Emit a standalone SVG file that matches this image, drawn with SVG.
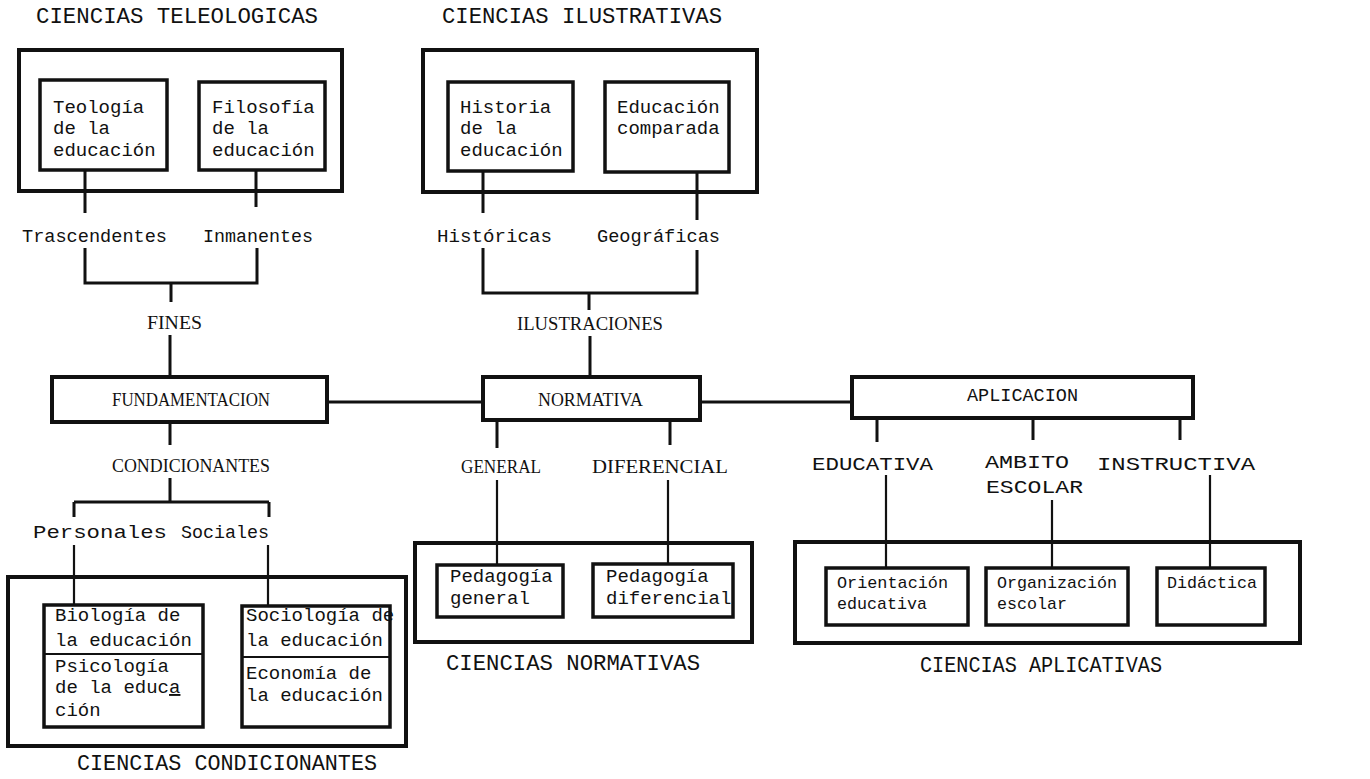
<svg xmlns="http://www.w3.org/2000/svg" width="1370" height="779" viewBox="0 0 1370 779">
<style>
.bg{fill:#fff}
.box{fill:none;stroke:#111;stroke-width:4}
.ibox{fill:none;stroke:#111;stroke-width:3.5}
.ln{fill:none;stroke:#111;stroke-width:3}
.thin{fill:none;stroke:#111;stroke-width:2.2}
.mono{font-family:"Liberation Mono","DejaVu Sans Mono",monospace;font-size:19px;fill:#111}
.small{font-family:"Liberation Mono","DejaVu Sans Mono",monospace;font-size:17px;fill:#111}
.title{font-family:"Liberation Mono","DejaVu Sans Mono",monospace;font-size:22px;fill:#111}
.cap{font-family:"Liberation Serif","DejaVu Serif",serif;font-size:18px;fill:#111}
</style>
<rect class="bg" x="0" y="0" width="1370" height="779"/>

<g id="connectors">
  <path class="ln" d="M85,170 V213 M256,170 V207"/>
  <path class="ln" d="M85,248 V283 H257 V248 M171,283 V302"/>
  <path class="ln" d="M170,335 V377"/>
  <path class="ln" d="M483,171 V213 M697,172 V220"/>
  <path class="ln" d="M483,248 V293 H697 V250 M589,293 V310"/>
  <path class="ln" d="M590,336 V377"/>
  <path class="ln" d="M327,402 H483 M700,402 H852"/>
  <path class="ln" d="M170,422 V445 M170,478 V502 M74,502 H269 M74,502 V517 M269,502 V517"/>
  <path class="thin" d="M74,545 V605 M268,545 V606"/>
  <path class="ln" d="M497,420 V448 M670,420 V445"/>
  <path class="thin" d="M497,480 V565 M668,480 V564"/>
  <path class="ln" d="M877,418 V442 M1033,418 V440 M1180,418 V440"/>
  <path class="thin" d="M886,475 V568 M1052,500 V568 M1210,475 V568"/>
</g>

<g id="ciencias-teleologicas">
  <text class="title" x="36" y="23" textLength="282" lengthAdjust="spacingAndGlyphs">CIENCIAS TELEOLOGICAS</text>
  <rect class="box" x="19" y="50" width="323" height="141"/>
</g>
<g id="teologia">
  <rect class="ibox" x="40" y="80" width="127" height="90"/>
  <text class="mono" x="53" y="113">Teología</text>
  <text class="mono" x="53" y="134">de la</text>
  <text class="mono" x="53" y="156">educación</text>
</g>
<g id="filosofia">
  <rect class="ibox" x="199" y="82" width="126" height="88"/>
  <text class="mono" x="212" y="113">Filosofía</text>
  <text class="mono" x="212" y="134">de la</text>
  <text class="mono" x="212" y="156">educación</text>
</g>
<g id="trascendentes"><text class="mono" x="22" y="242" textLength="145" lengthAdjust="spacingAndGlyphs">Trascendentes</text></g>
<g id="inmanentes"><text class="mono" x="203" y="242" textLength="110" lengthAdjust="spacingAndGlyphs">Inmanentes</text></g>
<g id="fines"><text class="cap" x="147" y="329" textLength="55" lengthAdjust="spacingAndGlyphs">FINES</text></g>

<g id="ciencias-ilustrativas">
  <text class="title" x="442" y="23" textLength="280" lengthAdjust="spacingAndGlyphs">CIENCIAS ILUSTRATIVAS</text>
  <rect class="box" x="423" y="50" width="334" height="142"/>
</g>
<g id="historia">
  <rect class="ibox" x="448" y="82" width="125" height="89"/>
  <text class="mono" x="460" y="113">Historia</text>
  <text class="mono" x="460" y="134">de la</text>
  <text class="mono" x="460" y="156">educación</text>
</g>
<g id="educacion-comparada">
  <rect class="ibox" x="605" y="82" width="124" height="90"/>
  <text class="mono" x="617" y="113">Educación</text>
  <text class="mono" x="617" y="134">comparada</text>
</g>
<g id="historicas"><text class="mono" x="437" y="242" textLength="115" lengthAdjust="spacingAndGlyphs">Históricas</text></g>
<g id="geograficas"><text class="mono" x="597" y="242" textLength="123" lengthAdjust="spacingAndGlyphs">Geográficas</text></g>
<g id="ilustraciones"><text class="cap" x="517" y="330" textLength="146" lengthAdjust="spacingAndGlyphs">ILUSTRACIONES</text></g>

<g id="fundamentacion">
  <rect class="box" x="52" y="377" width="275" height="45"/>
  <text class="cap" x="112" y="406" textLength="158" lengthAdjust="spacingAndGlyphs">FUNDAMENTACION</text>
</g>
<g id="normativa">
  <rect class="box" x="483" y="377" width="217" height="43"/>
  <text class="cap" x="538" y="406" textLength="105" lengthAdjust="spacingAndGlyphs">NORMATIVA</text>
</g>
<g id="aplicacion">
  <rect class="box" x="852" y="377" width="341" height="41"/>
  <text class="mono" x="967" y="401" textLength="111" lengthAdjust="spacingAndGlyphs">APLICACION</text>
</g>

<g id="condicionantes"><text class="cap" x="112" y="472" textLength="158" lengthAdjust="spacingAndGlyphs">CONDICIONANTES</text></g>
<g id="personales"><text class="mono" x="33" y="538" textLength="134" lengthAdjust="spacingAndGlyphs">Personales</text></g>
<g id="sociales"><text class="mono" x="181" y="538" textLength="88" lengthAdjust="spacingAndGlyphs">Sociales</text></g>

<g id="ciencias-condicionantes">
  <rect class="box" x="8" y="577" width="398" height="169"/>
  <text class="title" x="77" y="770" textLength="300" lengthAdjust="spacingAndGlyphs">CIENCIAS CONDICIONANTES</text>
</g>
<g id="biologia-psicologia">
  <rect class="ibox" x="44" y="605" width="159" height="122"/>
  <line class="thin" x1="44" y1="654" x2="203" y2="654"/>
  <text class="mono" x="55" y="621">Biología de</text>
  <text class="mono" x="55" y="646">la educación</text>
  <text class="mono" x="55" y="672">Psicología</text>
  <text class="mono" x="55" y="693">de la educ<tspan text-decoration="underline">a</tspan></text>
  <text class="mono" x="55" y="716">ción</text>
</g>
<g id="sociologia-economia">
  <rect class="ibox" x="242" y="606" width="148" height="121"/>
  <line class="thin" x1="242" y1="657" x2="390" y2="657"/>
  <text class="mono" x="246" y="621">Sociología de</text>
  <text class="mono" x="246" y="646">la educación</text>
  <text class="mono" x="246" y="679">Economía de</text>
  <text class="mono" x="246" y="701">la educación</text>
</g>

<g id="general"><text class="cap" x="461" y="473" textLength="80" lengthAdjust="spacingAndGlyphs">GENERAL</text></g>
<g id="diferencial"><text class="cap" x="592" y="473" textLength="136" lengthAdjust="spacingAndGlyphs">DIFERENCIAL</text></g>
<g id="ciencias-normativas">
  <rect class="box" x="415" y="543" width="337" height="99"/>
  <text class="title" x="446" y="670" textLength="254" lengthAdjust="spacingAndGlyphs">CIENCIAS NORMATIVAS</text>
</g>
<g id="pedagogia-general">
  <rect class="ibox" x="437" y="565" width="126" height="52"/>
  <text class="mono" x="450" y="582">Pedagogía</text>
  <text class="mono" x="450" y="604">general</text>
</g>
<g id="pedagogia-diferencial">
  <rect class="ibox" x="593" y="564" width="140" height="53"/>
  <text class="mono" x="606" y="582">Pedagogía</text>
  <text class="mono" x="606" y="604">diferencial</text>
</g>

<g id="educativa"><text class="mono" x="812" y="470" textLength="121" lengthAdjust="spacingAndGlyphs">EDUCATIVA</text></g>
<g id="ambito-escolar">
  <text class="mono" x="985" y="468" textLength="84" lengthAdjust="spacingAndGlyphs">AMBITO</text>
  <text class="mono" x="986" y="493" textLength="97" lengthAdjust="spacingAndGlyphs">ESCOLAR</text>
</g>
<g id="instructiva"><text class="mono" x="1097" y="470" textLength="158" lengthAdjust="spacingAndGlyphs">INSTRUCTIVA</text></g>
<g id="ciencias-aplicativas">
  <rect class="box" x="795" y="542" width="505" height="101"/>
  <text class="title" x="920" y="672" textLength="242" lengthAdjust="spacingAndGlyphs">CIENCIAS APLICATIVAS</text>
</g>
<g id="orientacion">
  <rect class="ibox" x="826" y="568" width="142" height="57"/>
  <text class="small" x="837" y="588" textLength="111" lengthAdjust="spacingAndGlyphs">Orientación</text>
  <text class="small" x="837" y="609" textLength="90" lengthAdjust="spacingAndGlyphs">educativa</text>
</g>
<g id="organizacion">
  <rect class="ibox" x="986" y="568" width="142" height="57"/>
  <text class="small" x="997" y="588" textLength="120" lengthAdjust="spacingAndGlyphs">Organización</text>
  <text class="small" x="997" y="609" textLength="70" lengthAdjust="spacingAndGlyphs">escolar</text>
</g>
<g id="didactica">
  <rect class="ibox" x="1157" y="568" width="108" height="57"/>
  <text class="small" x="1167" y="588" textLength="90" lengthAdjust="spacingAndGlyphs">Didáctica</text>
</g>
</svg>
